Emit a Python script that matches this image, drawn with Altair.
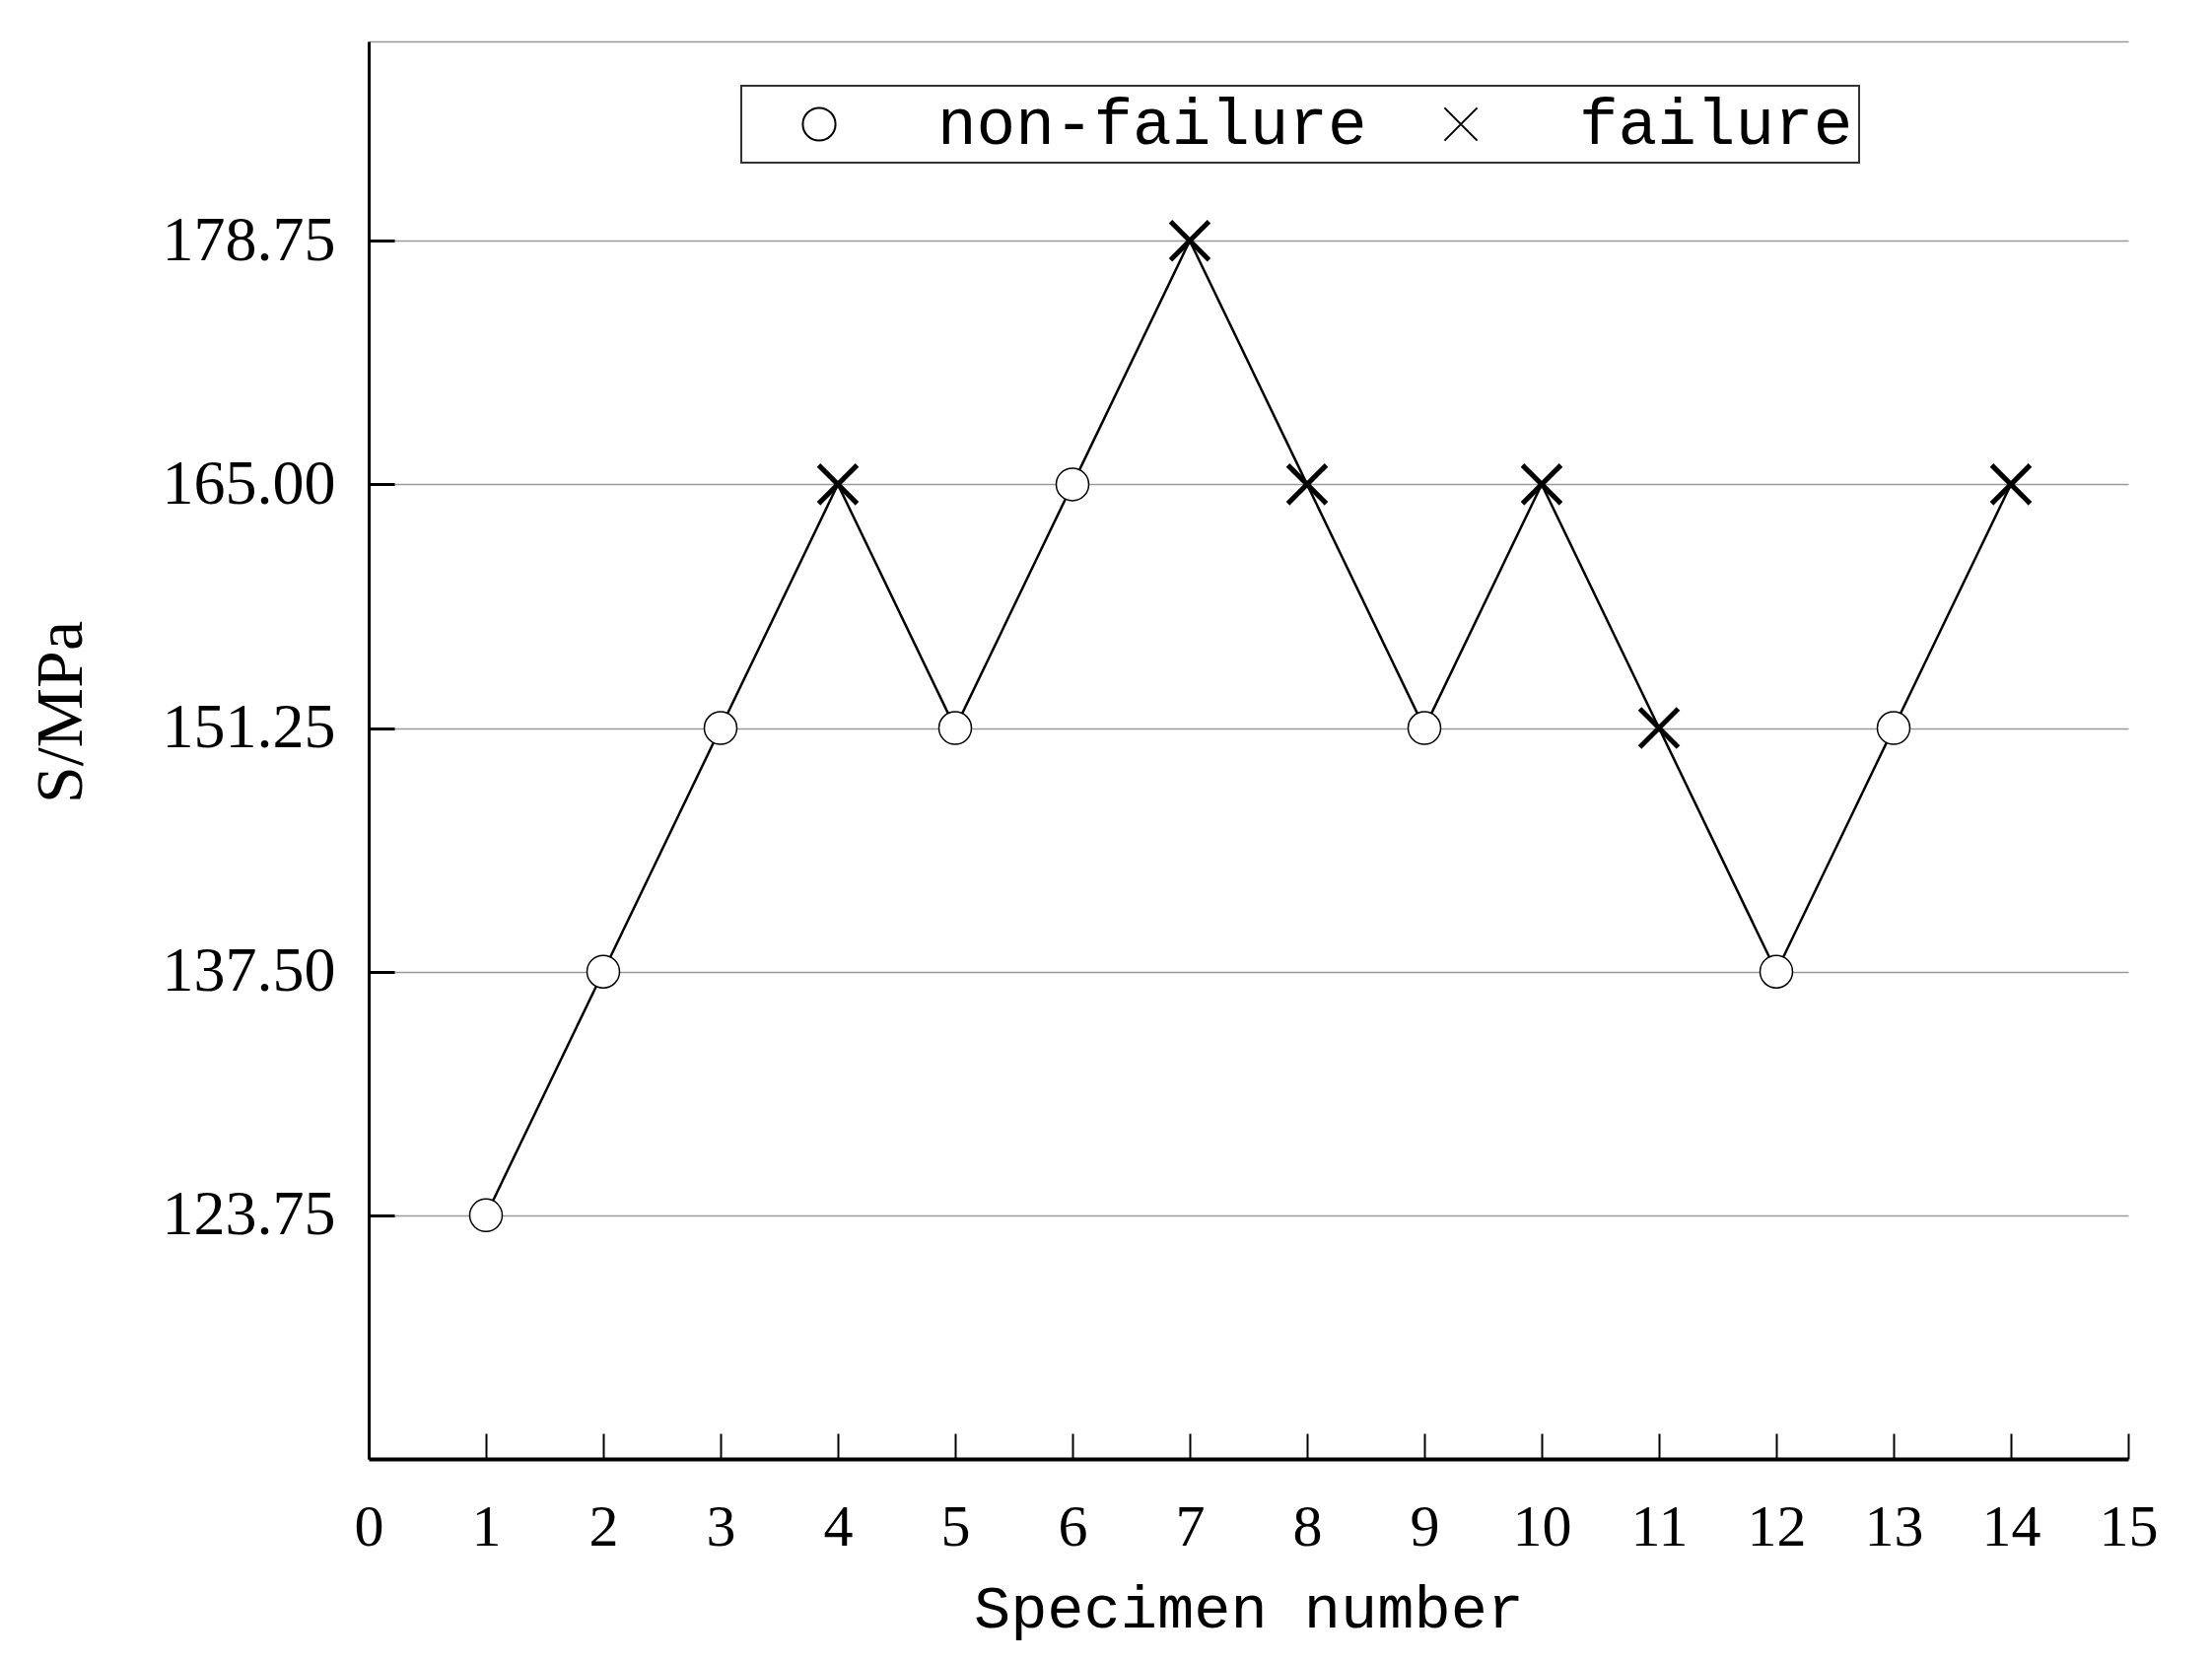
import altair as alt
import pandas as pd

specimen = list(range(1, 15))
stress = [123.75, 137.5, 151.25, 165.0, 151.25, 165.0, 178.75, 165.0,
          151.25, 165.0, 151.25, 137.5, 151.25, 165.0]
status = ["non-failure", "non-failure", "non-failure", "failure", "non-failure",
          "non-failure", "failure", "failure", "non-failure", "failure",
          "failure", "non-failure", "non-failure", "failure"]
y_ticks = [123.75, 137.5, 151.25, 165.0, 178.75]
x_ticks = list(range(0, 16))
categories = ["non-failure", "failure"]

df = pd.DataFrame({"Specimen": specimen, "Stress": stress, "Status": status})

W, H = 1785, 1438
SERIF = "Liberation Serif"
MONO = "Liberation Mono"
XPATH = "M-1,-1L1,1M-1,1L1,-1"

xscale = alt.Scale(domain=[0, 15], nice=False, zero=False)
yscale = alt.Scale(domain=[110, 190], nice=False, zero=False)
shape_scale = alt.Scale(domain=categories, range=["circle", XPATH])

legend = alt.Legend(title=" ", titleOrient="left", titleFont=MONO, titleFontSize=66,
                    titlePadding=40,
                    orient="none", legendX=378, legendY=45,
                    direction="horizontal", padding=6,
                    strokeColor="#333333", fillColor="white",
                    labelFont=MONO, labelFontSize=66, labelColor="black",
                    labelOffset=87, columnPadding=62,
                    symbolSize=1100, symbolStrokeWidth=2,
                    labelLimit=600)

line = alt.Chart(df).mark_line(color="black", strokeWidth=2.5).encode(
    x=alt.X("Specimen:Q", scale=xscale,
            axis=alt.Axis(values=x_ticks, ticks=False, tickSize=0, labelPadding=40,
                          labelFont=SERIF, labelFontSize=60, labelColor="black",
                          title="Specimen number", titleFont=MONO, titleFontSize=62,
                          titleFontWeight="normal", titleColor="black", titlePadding=22,
                          domainColor="black", domainWidth=4, grid=False,
                          labelFlush=False)),
    y=alt.Y("Stress:Q", scale=yscale,
            axis=alt.Axis(values=y_ticks + [190], ticks=False, tickSize=0, labelPadding=34,
                          labelExpr="datum.value == 190 ? '' : format(datum.value, '.2f')",
                          labelFont=SERIF, labelFontSize=64, labelColor="black",
                          title="S/MPa", titleFont=SERIF, titleFontSize=68,
                          titleFontWeight="normal", titleColor="black", titlePadding=78,
                          titleY=680,
                          domainColor="black", domainWidth=3,
                          grid=True, gridColor="#9a9a9a", gridWidth=1.5,
                          labelFlush=False)),
)

points = alt.Chart(df).mark_point(color="black", fill="white", filled=False, opacity=1).encode(
    x=alt.X("Specimen:Q", scale=xscale,
            axis=alt.Axis(orient="top", offset=-H, values=x_ticks, labels=False, ticks=True,
                          tickSize=26, tickWidth=2, tickColor="black", domain=False,
                          grid=False, title=None)),
    y=alt.Y("Stress:Q", scale=yscale,
            axis=alt.Axis(orient="right", offset=-W, values=y_ticks, labels=False, ticks=True,
                          tickSize=26, tickWidth=3, tickColor="black", domain=False,
                          grid=False, title=None)),
    shape=alt.Shape("Status:N", scale=shape_scale, legend=legend),
    size=alt.condition(alt.datum.Status == "failure", alt.value(1521), alt.value(1089)),
    strokeWidth=alt.condition(alt.datum.Status == "failure", alt.value(5), alt.value(1.5)),
)

chart = alt.layer(line, points).resolve_axis(
    x="independent", y="independent"
).properties(
    width=W, height=H, padding={"top": 34, "left": 20, "right": 10, "bottom": 14}
).configure_view(stroke=None).configure_legend(strokeWidth=2)

chart.save("out.html", embed_options={"renderer": "svg", "actions": False})
